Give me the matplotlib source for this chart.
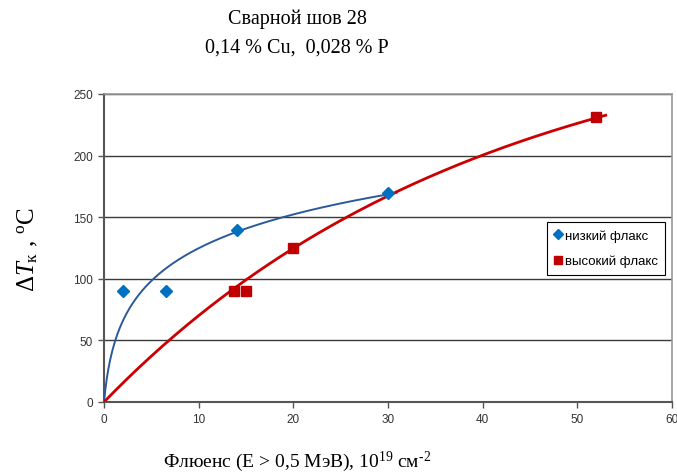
import numpy as np
import matplotlib
matplotlib.use('Agg')
import matplotlib.pyplot as plt

# data
low_x = [2.0, 6.5, 14.0, 30.0]
low_y = [90, 90, 140, 170]
high_x = [13.7, 15.0, 20.0, 52.0]
high_y = [90, 90, 125, 231]

# trend lines (coefficients)
low_A, low_B = 41.0, 0.5           # y = A * ln(1 + x/B)
low_xmax = 30.9
high_A, high_B = 317.0, 40.0       # y = A * (1 - exp(-x/B))
high_xmax = 53.0

x_ticks = [0, 10, 20, 30, 40, 50, 60]
y_ticks = [0, 50, 100, 150, 200, 250]

plt.rcParams['mathtext.fontset'] = 'custom'
plt.rcParams['mathtext.rm'] = 'Liberation Serif'
plt.rcParams['mathtext.it'] = 'Liberation Serif:italic'

fig = plt.figure(figsize=(6.77, 4.77), dpi=100)
ax = fig.add_axes([104 / 677, 1 - 403 / 477, 568 / 677, 308 / 477])

xs = np.linspace(0, low_xmax, 400)
ax.plot(xs, low_A * np.log(1 + xs / low_B), color='#2A5A9A', lw=1.4, zorder=3)
xs2 = np.linspace(0, high_xmax, 300)
ax.plot(xs2, high_A * (1 - np.exp(-xs2 / high_B)), color='#CC0000', lw=2.0, zorder=3)

ax.plot(low_x, low_y, 'D', color='#0070C0', ms=6.5, mec='#0070C0', ls='none',
        label='низкий флакс', zorder=4)
ax.plot(high_x, high_y, 's', color='#C00000', ms=6.5, mec='#C00000', ls='none',
        label='высокий флакс', zorder=4)

ax.set_xlim(0, 60)
ax.set_ylim(0, 250)
ax.set_xticks(x_ticks)
ax.set_yticks(y_ticks)
ax.yaxis.grid(True, color='#3a3a3a', lw=1.0)
ax.set_axisbelow(True)
for s in ['left', 'bottom']:
    ax.spines[s].set_color('#555555')
    ax.spines[s].set_linewidth(1.5)
for s in ['top', 'right']:
    ax.spines[s].set_color('#999999')
    ax.spines[s].set_linewidth(1.2)
ax.tick_params(direction='out', length=4, width=1, color='#555555',
               labelsize=8.5, labelcolor='#333333', pad=4)
for lab in ax.get_xticklabels() + ax.get_yticklabels():
    lab.set_family(['Liberation Sans Narrow', 'Liberation Sans', 'DejaVu Sans'])

leg = ax.legend(loc='upper left', bbox_to_anchor=(443 / 568, (403 - 223) / 308),
                frameon=True, fancybox=False, edgecolor='black', framealpha=1,
                prop={'family': 'Liberation Sans', 'size': 9.5},
                handlelength=0.5, handletextpad=0.3, borderpad=0.55,
                labelspacing=1.0, borderaxespad=0, markerscale=0.8)
leg.get_frame().set_linewidth(0.8)

fig.text(297 / 677, 1 - 19 / 477, 'Сварной шов 28', ha='center', va='center',
         family='Liberation Serif', fontsize=14.5)
fig.text(297 / 677, 1 - 48 / 477, '0,14 % Cu,  0,028 % P', ha='center', va='center',
         family='Liberation Serif', fontsize=14.5)
fig.text(297 / 677, 1 - 462 / 477, 'Флюенс (E > 0,5 МэВ), 10$^{19}$ см$^{‐2}$',
         ha='center', va='center', family='Liberation Serif', fontsize=14)
fig.text(28 / 677, 1 - 250 / 477, r'$\Delta T_{\mathrm{к}}$ , $^{\mathrm{o}}$C',
         ha='center', va='center', rotation=90, family='Liberation Serif', fontsize=18)

fig.savefig('out.png', dpi=100)
